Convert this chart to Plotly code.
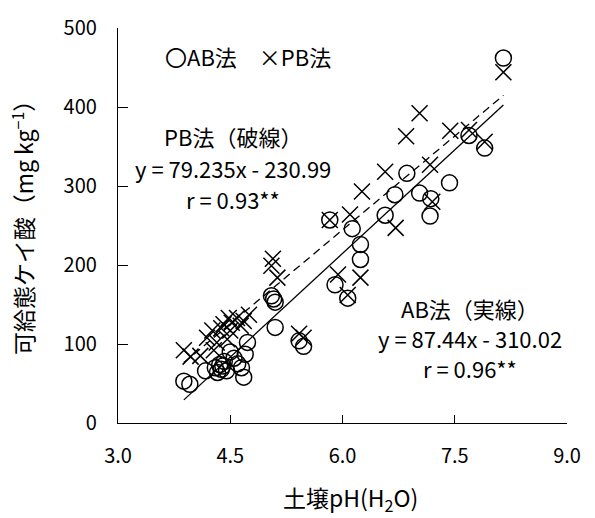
import plotly.graph_objects as go

# 土壌pH(H2O) と 可給態ケイ酸 (mg/kg) — AB法
ab_ph = [3.88, 3.96, 4.17, 4.30, 4.33, 4.36, 4.38, 4.40, 4.42, 4.45, 4.50, 4.55,
         4.60, 4.65, 4.68, 4.70, 4.73, 5.05, 5.08, 5.10, 5.10, 5.42, 5.48, 5.83,
         5.90, 6.07, 6.13, 6.24, 6.24, 6.57, 6.70, 6.86, 7.03, 7.18, 7.17, 7.43,
         7.69, 7.90, 8.15]
ab_si = [53, 49, 66, 70, 64, 74, 68, 72, 78, 66, 90, 82,
         75, 70, 58, 87, 102, 161, 157, 153, 121, 104, 97, 257,
         175, 158, 246, 226, 207, 263, 289, 316, 291, 284, 262, 304,
         364, 348, 462]

# PB法
pb_ph = [3.88, 3.97, 4.10, 4.19, 4.26, 4.28, 4.32, 4.38, 4.41, 4.46, 4.48, 4.50,
         4.52, 4.59, 4.64, 4.68, 4.75, 5.07, 5.05, 5.13, 5.42, 5.48, 5.83, 5.94,
         6.07, 6.10, 6.24, 6.26, 6.57, 6.71, 6.85, 7.03, 7.17, 7.20, 7.44, 7.69,
         7.90, 8.15]
pb_si = [92, 84, 85, 108, 117, 92, 102, 120, 125, 106, 133, 117,
         127, 133, 123, 129, 137, 208, 199, 184, 113, 108, 257, 188,
         162, 264, 184, 293, 318, 247, 363, 392, 327, 280, 370, 371,
         356, 444]

# 回帰式
ab_slope, ab_icpt = 87.44, -310.02
pb_slope, pb_icpt = 79.235, -230.99

x_ticks = [3.0, 4.5, 6.0, 7.5, 9.0]
y_ticks = [0, 100, 200, 300, 400, 500]

# 回帰式の注記 (各行を個別に配置)
pb_label = ["PB法（破線）", "y = 79.235x - 230.99", "r = 0.93**"]
pb_label_y = [363, 323, 283]
ab_label = ["AB法（実線）", "y = 87.44x - 310.02", "r = 0.96**"]
ab_label_y = [146, 108, 70]

FONT = "Noto Sans CJK JP"

fig = go.Figure()

ab_x = [min(ab_ph), max(ab_ph)]
pb_x = [min(pb_ph), max(pb_ph)]
fig.add_trace(go.Scatter(x=ab_x, y=[ab_slope * v + ab_icpt for v in ab_x],
                         mode="lines", line=dict(color="black", width=1.3),
                         showlegend=False, hoverinfo="skip"))
fig.add_trace(go.Scatter(x=pb_x, y=[pb_slope * v + pb_icpt for v in pb_x],
                         mode="lines",
                         line=dict(color="black", width=1.3, dash="8px,5px"),
                         showlegend=False, hoverinfo="skip"))

fig.add_trace(go.Scatter(x=ab_ph, y=ab_si, mode="markers", name="AB法",
                         marker=dict(symbol="circle-open", size=16,
                                     color="black", line=dict(width=1.5)),
                         showlegend=False))
fig.add_trace(go.Scatter(x=pb_ph, y=pb_si, mode="markers", name="PB法",
                         marker=dict(symbol="x-thin-open", size=16,
                                     color="black", line=dict(width=1.5)),
                         showlegend=False))

axis_common = dict(showgrid=False, zeroline=False, showline=True,
                   linecolor="black", linewidth=1.3, ticks="inside",
                   tickcolor="black", tickwidth=1.3, mirror=False,
                   tickfont=dict(family=FONT, size=20, color="black"))

fig.update_xaxes(range=[3, 9], tickvals=x_ticks,
                 ticktext=[f"{v:.1f}" for v in x_ticks],
                 ticklen=8, ticklabelstandoff=15, **axis_common)
fig.update_yaxes(range=[0, 500], tickvals=y_ticks,
                 ticktext=[str(v) for v in y_ticks],
                 ticklen=10, ticklabelstandoff=16, **axis_common)

ann_font = dict(family=FONT, size=22, color="black")
fig.add_annotation(xref="paper", yref="paper", x=-0.213, y=0.51,
                   xanchor="center", yanchor="middle",
                   text="可給態ケイ酸（mg kg<sup>−1</sup>）", textangle=-90,
                   showarrow=False, font=dict(family=FONT, size=23, color="black"))
fig.add_annotation(xref="paper", yref="paper", x=0.518, y=-0.19,
                   xanchor="center", yanchor="middle",
                   text="土壌pH(H<sub>2</sub>O)", showarrow=False,
                   font=dict(family=FONT, size=23, color="black"))
fig.add_annotation(xref="paper", yref="paper", x=0.1, y=0.93,
                   xanchor="left", yanchor="middle",
                   text="〇AB法　×PB法", showarrow=False, font=ann_font)
for txt, yv in zip(pb_label, pb_label_y):
    fig.add_annotation(x=4.54, y=yv, text=txt, showarrow=False,
                       xanchor="center", yanchor="middle", font=ann_font)
for txt, yv in zip(ab_label, ab_label_y):
    fig.add_annotation(x=7.71, y=yv, text=txt, showarrow=False,
                       xanchor="center", yanchor="middle", font=ann_font)

fig.update_layout(width=595, height=518,
                  margin=dict(l=117.5, r=28.3, t=25, b=95.3),
                  paper_bgcolor="white", plot_bgcolor="white",
                  font=dict(family=FONT, color="black"))

fig.write_html("out.html")
